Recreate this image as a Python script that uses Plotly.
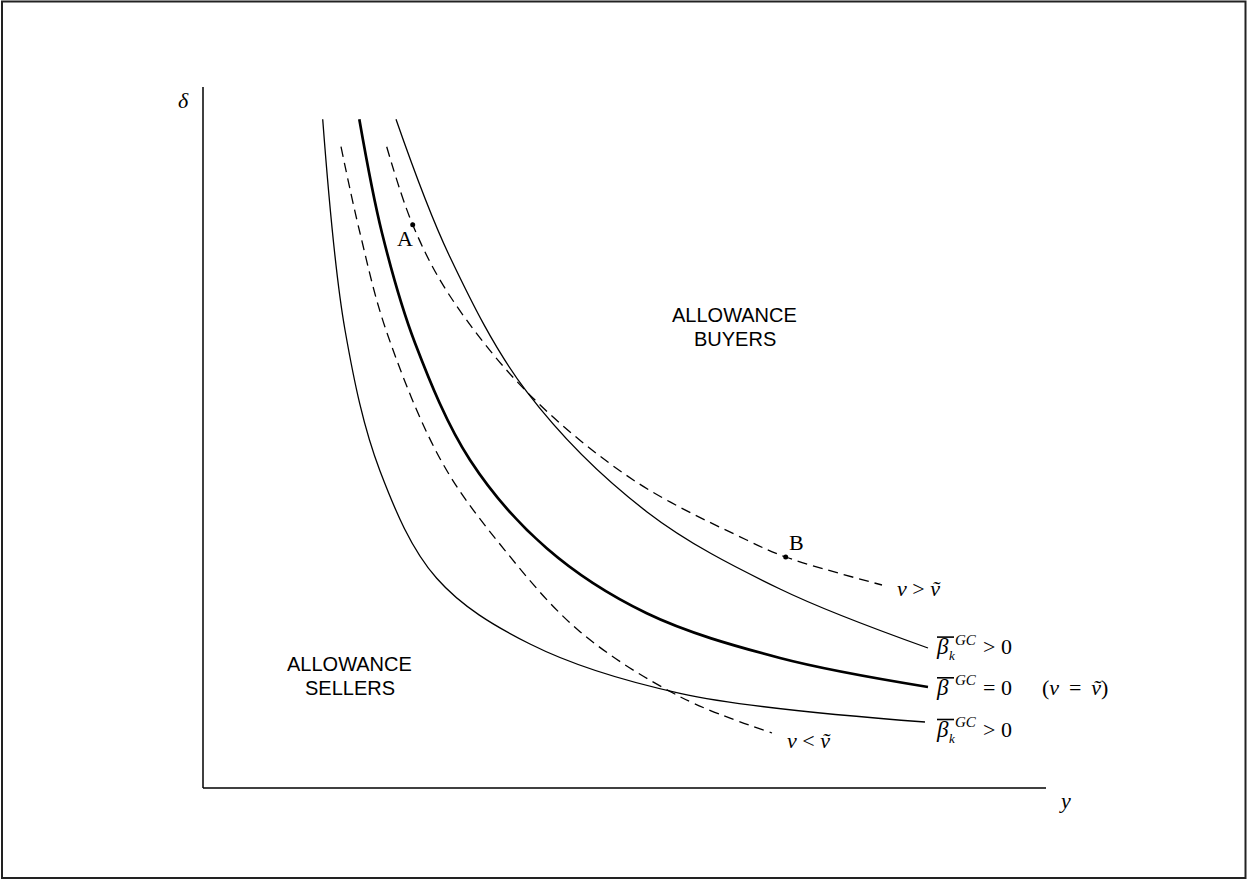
import plotly.graph_objects as go

# Values (picture coordinates of points on each curve);
# they are converted below to data units measured from the axes corner.
low_px = [322.7, 345, 380, 436.7, 530, 680, 925]
low_py = [119.3, 330, 471, 578.3, 644, 693.3, 722]

vlo_px = [341, 360, 386, 441.7, 503.3, 580, 680, 772]
vlo_py = [146.7, 233, 330, 461.7, 548.3, 631.7, 696.7, 733]

mid_px = [359.3, 382, 415, 470, 546.7, 646.7, 780, 928]
mid_py = [119.3, 233, 343, 460, 548.3, 613.3, 658, 687]

vhi_px = [386.7, 412.7, 449.3, 526.7, 633.3, 746.7, 785.7, 882]
vhi_py = [146.7, 224.7, 295, 391.7, 480, 540, 557, 585]

high_px = [396, 449, 526.7, 646.7, 780, 928]
high_py = [119.3, 255, 391.7, 511.7, 589, 648]

point_labels = ["A", "B"]
point_px = [412.7, 785.7]
point_py = [224.7, 557]

X0, Y0 = 203, 788  # axes corner in the reference picture


def to_y(px):
    return [p - X0 for p in px]


def to_d(py):
    return [Y0 - p for p in py]


SERIF = "Liberation Serif, Times New Roman, serif"
SANS = "Liberation Sans, Arial, sans-serif"

fig = go.Figure()
thin = dict(color="black", width=1.3)
dashed = dict(color="black", width=1.3, dash="10px,6px")
fig.add_trace(go.Scatter(x=to_y(low_px), y=to_d(low_py), mode="lines", line=dict(**thin, shape="spline")))
fig.add_trace(go.Scatter(x=to_y(vlo_px), y=to_d(vlo_py), mode="lines", line=dict(**dashed, shape="spline")))
fig.add_trace(go.Scatter(x=to_y(mid_px), y=to_d(mid_py), mode="lines",
                         line=dict(color="black", width=2.7, shape="spline")))
fig.add_trace(go.Scatter(x=to_y(vhi_px), y=to_d(vhi_py), mode="lines", line=dict(**dashed, shape="spline")))
fig.add_trace(go.Scatter(x=to_y(high_px), y=to_d(high_py), mode="lines", line=dict(**thin, shape="spline")))
pt_y, pt_d = to_y(point_px), to_d(point_py)
fig.add_trace(go.Scatter(x=pt_y, y=pt_d, mode="markers", marker=dict(color="black", size=5)))

# axes and frame
fig.add_shape(type="line", x0=0, y0=0, x1=0, y1=701, line=dict(color="black", width=1.5))
fig.add_shape(type="line", x0=0, y0=0, x1=843, y1=0, line=dict(color="black", width=1.5))
fig.add_shape(type="rect", x0=-201, y0=-90, x1=1042.5, y1=786.5, line=dict(color="#222", width=2))


def ann(x, y, text, size=22, family=SERIF, xanchor="left", yanchor="middle"):
    fig.add_annotation(x=x, y=y, text=text, showarrow=False, xanchor=xanchor, yanchor=yanchor,
                       font=dict(family=family, size=size, color="black"))


ann(-20, 688, "<i>δ</i>", xanchor="center")
ann(862, -12, "<i>y</i>", xanchor="center")
ann(pt_y[0] - 8, pt_d[0] - 14, point_labels[0], xanchor="center")
ann(pt_y[1] + 11, pt_d[1] + 15, point_labels[1], xanchor="center")

ann(531.7, 473.5, "ALLOWANCE", size=20, family=SANS, xanchor="center")
ann(531.7, 449, "BUYERS", size=20, family=SANS, xanchor="center")
ann(146.7, 124, "ALLOWANCE", size=20, family=SANS, xanchor="center")
ann(146.7, 100.5, "SELLERS", size=20, family=SANS, xanchor="center")

ann(692, 200, "<i>v</i> > <i>v\u0303</i>")
ann(582, 48, "<i>v</i> < <i>v\u0303</i>")

# beta labels at the right-hand ends of the three solid curves
beta_rows = [141.4, 100.7, 59]
beta_rel = ["> 0", "= 0", "> 0"]
beta_sub = ["k", "", "k"]
for d, rel, sub in zip(beta_rows, beta_rel, beta_sub):
    ann(731, d, "<i>\u03b2</i>", size=23)
    ann(750, d + 7, "<i>GC</i>", size=15)
    ann(778, d, rel)
    if sub:
        ann(749, d - 9, "<i>" + sub + "</i>", size=13, xanchor="center")
    fig.add_shape(type="line", x0=734, x1=751, y0=d + 9.5, y1=d + 9.5,
                  line=dict(color="black", width=1.6))
ann(837, 100.7, "(<i>v</i>\u2009 = \u2009<i>v\u0303</i>)")

fig.update_layout(
    width=1247, height=880, autosize=False,
    margin=dict(l=0, r=0, t=0, b=0),
    paper_bgcolor="white", plot_bgcolor="white",
    showlegend=False,
    xaxis=dict(range=[-203, 1044], visible=False, fixedrange=True),
    yaxis=dict(range=[-92, 788], visible=False, fixedrange=True),
)

fig.write_html("out.html", config={"displayModeBar": False},
               post_script="document.body.style.margin='0';")
